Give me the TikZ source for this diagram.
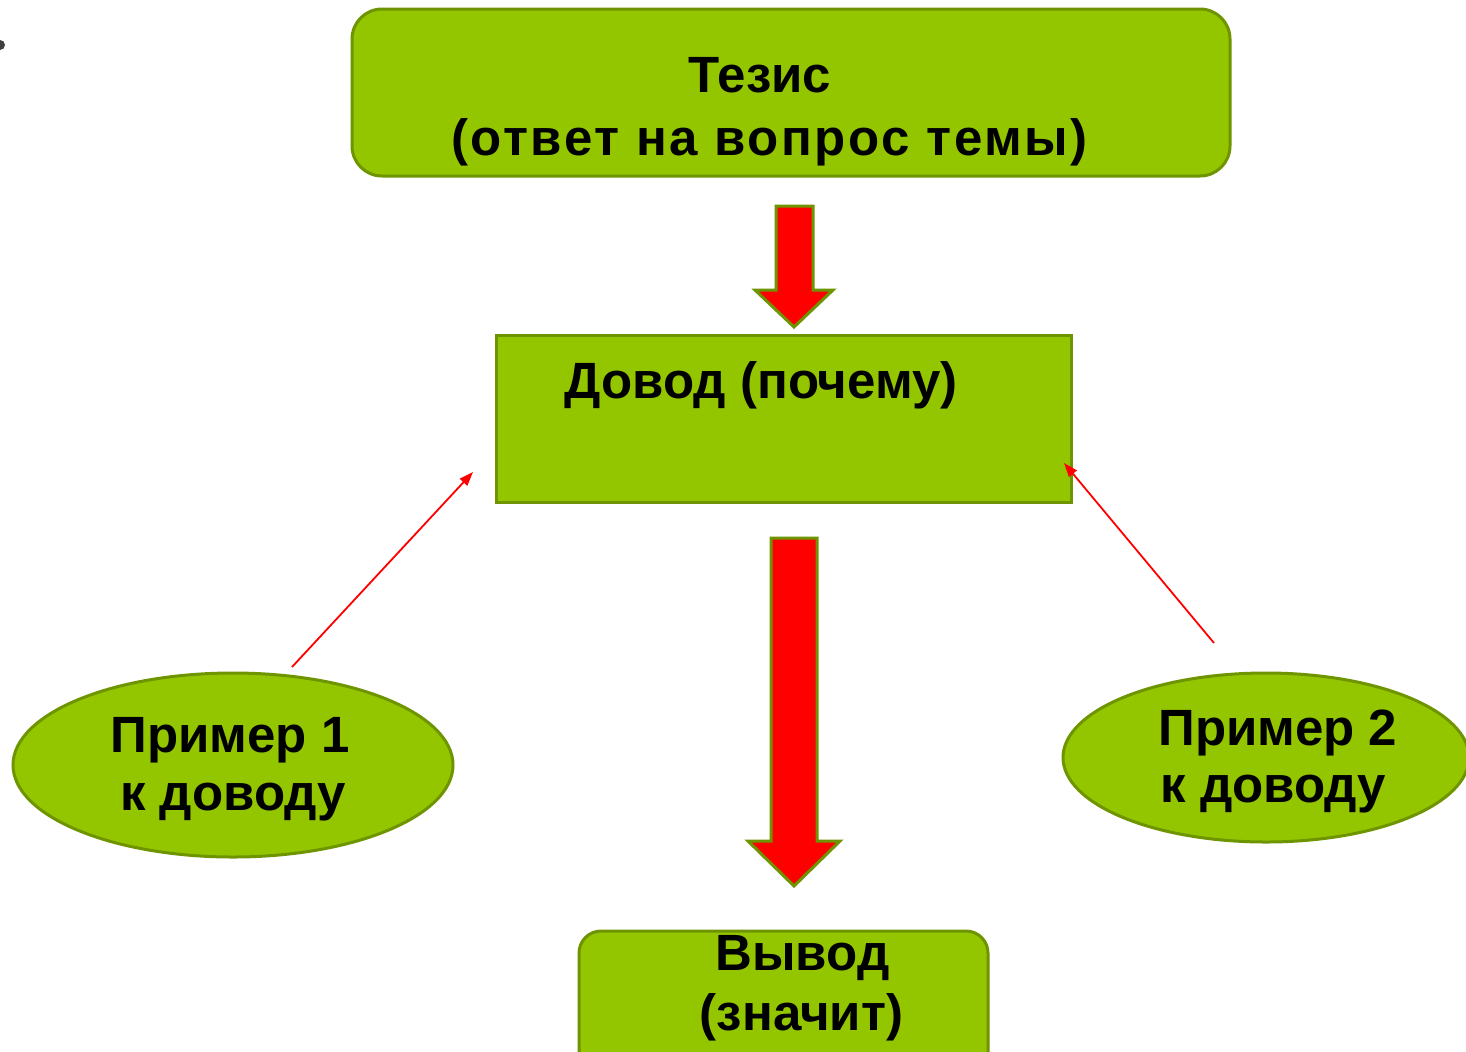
\documentclass[tikz,border=0pt]{standalone}
\usepackage{fontspec}
\setmainfont{Liberation Sans}
\usetikzlibrary{shapes.geometric,arrows.meta}
\definecolor{lime}{RGB}{148,198,0}
\definecolor{limeedge}{RGB}{110,148,0}
\definecolor{dotgray}{RGB}{64,64,64}
\begin{document}
\begin{tikzpicture}[x=0.5pt,y=-0.5pt,
  greenbox/.style={draw=limeedge, fill=lime, line width=1.5pt, inner sep=0pt},
  ovalbox/.style={ellipse, draw=limeedge, fill=lime, line width=1.5pt, inner sep=0pt},
  lbl/.style={font=\fontsize{25.5}{31.5}\selectfont\bfseries, text=black, inner sep=0pt, anchor=base},
  bigarrow/.style={fill=red, draw=limeedge, line width=1.5pt, line join=miter},
  thinarrow/.style={draw=red, line width=0.9pt, -{Triangle[length=7pt,width=5pt]}}]
\useasboundingbox (0,0) rectangle (1466,1051);
\clip (0,0) rectangle (1466,1051);
\fill[white] (0,0) rectangle (1466,1051);
% stray bullet
\fill[dotgray] (0,45) circle[radius=2.5pt];
% boxes
\node[greenbox, rounded corners=15pt, minimum width=439pt, minimum height=83.5pt] (tez) at (791,92.5) {};
\node[greenbox, minimum width=287.5pt, minimum height=83.5pt] (dov) at (783.5,418.5) {};
\node[greenbox, rounded corners=11pt, minimum width=204.5pt, minimum height=100pt] (vyv) at (783.5,1031) {};
\node[ovalbox, minimum width=220pt, minimum height=92pt] (pr1) at (233,765) {};
\node[ovalbox, minimum width=203pt, minimum height=84.5pt] (pr2) at (1266,757.5) {};
% texts
\node[lbl] (tezA) at (760,92) {Тезис};
\node[lbl] (tezB) at (769.5,155) {\addfontfeature{LetterSpace=5}(ответ на вопрос темы)};
\node[lbl] (dovA) at (761,398) {Довод (почему)};
\node[lbl] (vyvA) at (802.5,970) {Вывод};
\node[lbl] (vyvB) at (801.5,1030) {(значит)};
\node[lbl] (pr1A) at (230,752) {Пример 1};
\node[lbl] (pr1B) at (233,810) {к доводу};
\node[lbl, anchor=base west] (pr2A) at (1158,745) {Пример 2};
\node[lbl, anchor=base west] (pr2B) at (1160,802) {к доводу};
% big block arrows
\draw[bigarrow] (776,206) -- (813,206) -- (813,290) -- (833,290) -- (794,327) -- (755,290) -- (776,290) -- cycle;
\draw[bigarrow] (771,538) -- (817,538) -- (817,841) -- (840,841) -- (794,886) -- (748,841) -- (771,841) -- cycle;
% thin arrows
\coordinate (s1) at (292,667);
\coordinate (e1) at (473,472);
\coordinate (s2) at (1214,643);
\coordinate (e2) at (1064,463);
\draw[thinarrow] (s1) -- (e1);
\draw[thinarrow] (s2) -- (e2);
\end{tikzpicture}
\end{document}
